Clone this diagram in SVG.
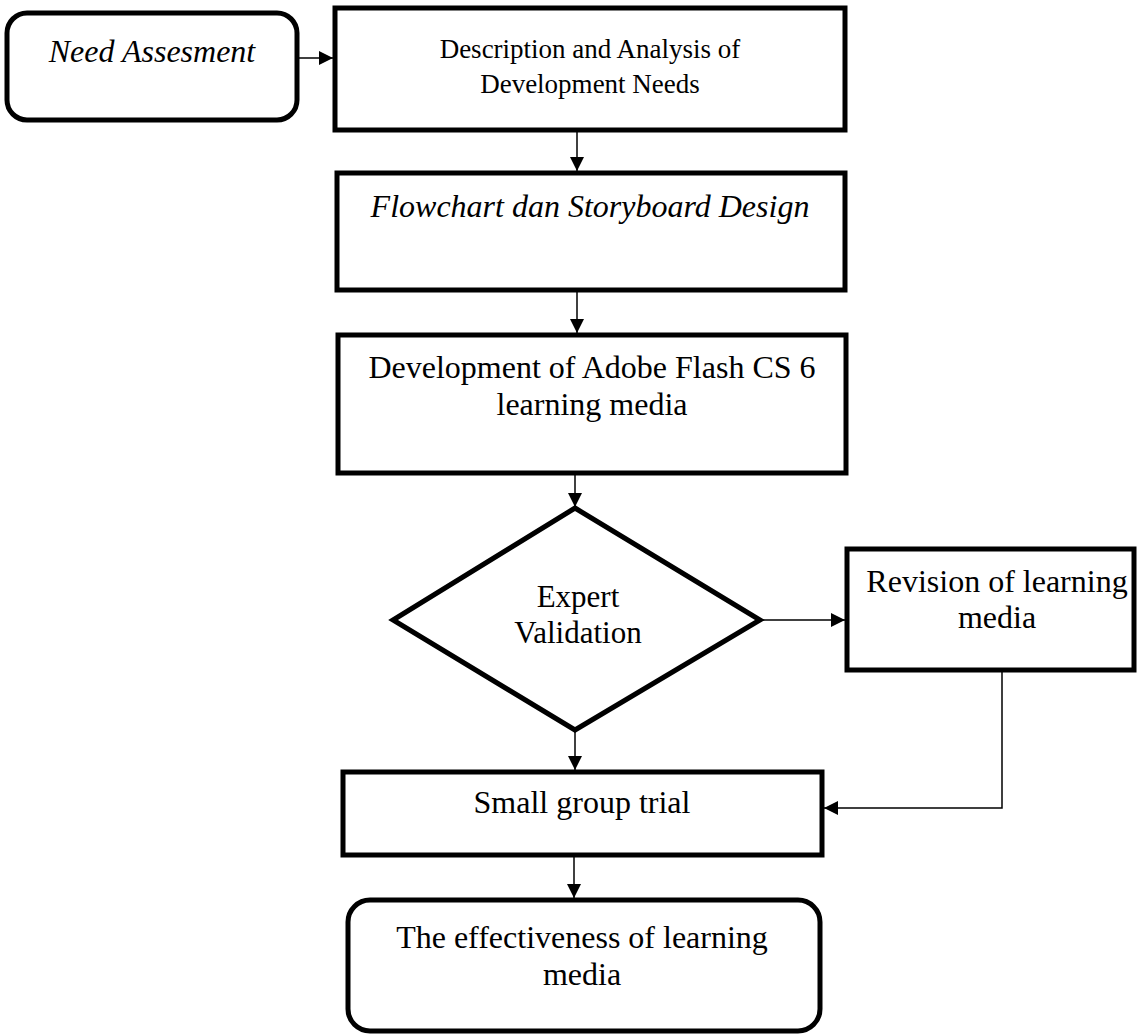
<svg xmlns="http://www.w3.org/2000/svg" width="1140" height="1036" viewBox="0 0 1140 1036">
<defs>
<style>
.box{fill:#fff;stroke:#000;stroke-width:5;stroke-linejoin:miter}
.rbox{fill:#fff;stroke:#000;stroke-width:5}
.conn{fill:none;stroke:#000;stroke-width:1.5}
text{font-family:"Liberation Serif","Times New Roman",serif;fill:#000;text-anchor:middle}
.t32{font-size:32px}
.t27{font-size:27px}
.it{font-style:italic}
</style>
<marker id="ah" viewBox="0 0 14 14" refX="14" refY="7" markerWidth="14" markerHeight="14" markerUnits="userSpaceOnUse" orient="auto">
<path d="M0,0 L14,7 L0,14 Z" fill="#000"/>
</marker>
</defs>
<rect width="1140" height="1036" fill="#fff"/>
<g id="connectors">
<line class="conn" x1="297" y1="58" x2="333" y2="58" marker-end="url(#ah)"/>
<line class="conn" x1="577" y1="130" x2="577" y2="171" marker-end="url(#ah)"/>
<line class="conn" x1="577" y1="290" x2="577" y2="333" marker-end="url(#ah)"/>
<line class="conn" x1="575" y1="473" x2="575" y2="507" marker-end="url(#ah)"/>
<line class="conn" x1="760" y1="620" x2="845" y2="620" marker-end="url(#ah)"/>
<line class="conn" x1="575" y1="730" x2="575" y2="770" marker-end="url(#ah)"/>
<polyline class="conn" points="1002,670 1002,808 824,808" marker-end="url(#ah)"/>
<line class="conn" x1="574" y1="855" x2="574" y2="898" marker-end="url(#ah)"/>
</g>
<g id="need">
<rect class="rbox" x="7" y="13" width="290" height="107" rx="20" ry="20"/>
<text class="t32 it" x="152" y="62">Need Assesment</text>
</g>
<g id="description">
<rect class="box" x="335" y="8" width="510" height="122"/>
<text class="t27" x="590" y="58">Description and Analysis of</text>
<text class="t27" x="590" y="93">Development Needs</text>
</g>
<g id="flowchart">
<rect class="box" x="337" y="173" width="508" height="117"/>
<text class="t32 it" x="590" y="217">Flowchart dan Storyboard Design</text>
</g>
<g id="development">
<rect class="box" x="338" y="335" width="508" height="138"/>
<text class="t32" x="592" y="378">Development of Adobe Flash CS 6</text>
<text class="t32" x="592" y="415">learning media</text>
</g>
<g id="validation">
<polygon class="box" points="575,508 760,620 575,730 393,620" stroke-linejoin="round"/>
<text class="t32" x="578" y="607" style="font-size:31px">Expert</text>
<text class="t32" x="578" y="643" style="font-size:31px">Validation</text>
</g>
<g id="revision">
<rect class="box" x="847" y="549" width="287" height="121"/>
<text class="t32" x="997" y="592">Revision of learning</text>
<text class="t32" x="997" y="628">media</text>
</g>
<g id="smallgroup">
<rect class="box" x="343" y="772" width="479" height="83"/>
<text class="t32" x="582" y="813">Small group trial</text>
</g>
<g id="effectiveness">
<rect class="rbox" x="348" y="900" width="472" height="131" rx="22" ry="22"/>
<text class="t32" x="582" y="948">The effectiveness of learning</text>
<text class="t32" x="582" y="985">media</text>
</g>
</svg>
